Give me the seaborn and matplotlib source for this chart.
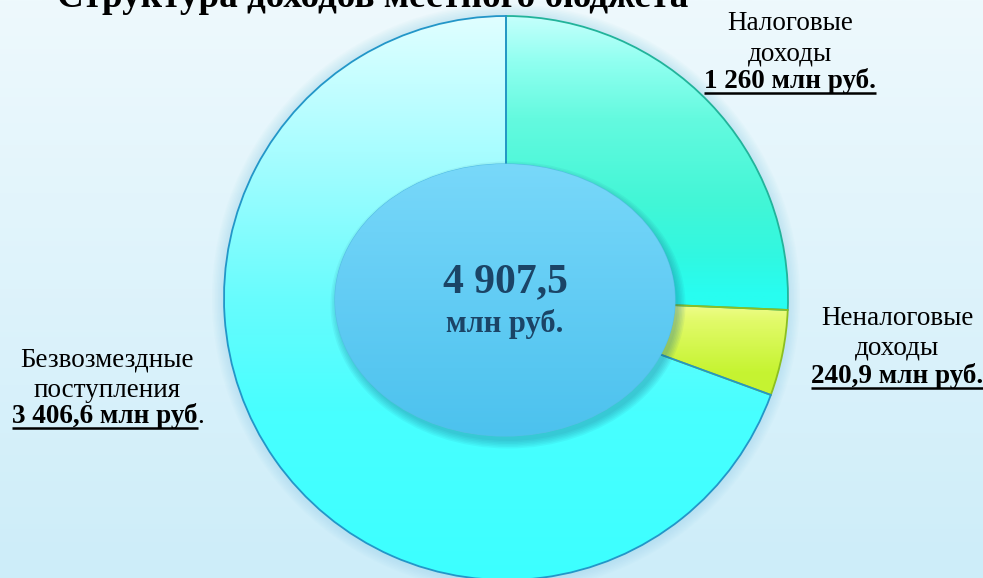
import numpy as np
import seaborn as sns
import matplotlib.pyplot as plt
from matplotlib.colors import LinearSegmentedColormap
from matplotlib.patches import Wedge, Ellipse, Circle

# данные
categories = ["Налоговые\nдоходы", "Неналоговые\nдоходы", "Безвозмездные\nпоступления"]
values = [1260, 240.9, 3406.6]
value_labels = ["1 260 млн руб.", "240,9 млн руб.", "3 406,6 млн руб"]
total_label = "4 907,5"
unit_label = "млн руб."
title = "Структура доходов местного бюджета"

sns.set_theme(style="white")
plt.rcParams['font.family'] = ['Liberation Serif', 'DejaVu Serif']

W, H = 983, 578
fig = plt.figure(figsize=(W / 100, H / 100), dpi=100)
ax = fig.add_axes([0, 0, 1, 1])

cx, cy, r = 506, H - 298, 282
ramp = np.linspace(0, 1, 256).reshape(-1, 1)

# фон
bg = LinearSegmentedColormap.from_list("bg", ["#cdedf9", "#eef9fd"])
ax.imshow(ramp, extent=[0, W, 0, H], cmap=bg, aspect='auto', origin='lower', zorder=0)

# мягкое свечение вокруг круга
for k in range(1, 9):
    ax.add_patch(Circle((cx, cy), r + k * 1.5, color="#8fd0e6", alpha=0.05, lw=0, zorder=1))

grads = [
    [(0, "#28fff0"), (0.51, "#28fdf0"), (0.57, "#30f8e2"), (0.67, "#42f6d6"),
     (0.82, "#64fadf"), (0.92, "#90fff0"), (1, "#c4fffc")],
    [(0, "#c0f028"), (0.37, "#c6f432"), (0.46, "#e2fa6a"), (0.52, "#ffffb0"), (1, "#ffffb0")],
    [(0, "#3cffff"), (0.3, "#48ffff"), (0.5, "#68fcfd"), (0.76, "#a8fdff"), (1, "#e0ffff")],
]
edges = ["#22b39a", "#8cbf20", "#2396c8"]

wedges, _ = ax.pie(values, startangle=90, counterclock=False, center=(cx, cy), radius=r,
                   colors=["#40f4d8", "#d8f850", "#60fcff"], wedgeprops=dict(linewidth=0))

for w, g in zip(wedges, grads):
    cm = LinearSegmentedColormap.from_list("", g)
    im = ax.imshow(ramp, extent=[cx - r, cx + r, cy - r, cy + r], origin='lower',
                   cmap=cm, aspect='auto', zorder=2)
    im.set_clip_path(w)

for w, ec in zip(wedges, edges):
    ax.add_patch(Wedge((cx, cy), r, w.theta1, w.theta2, fill=False, ec=ec, lw=1.3, zorder=3))

# центральный эллипс
ex, ey, ew, eh = 505, H - 300, 340, 272
for k in range(6):
    ax.add_patch(Ellipse((ex + 3, ey - 5), ew + k * 3, eh + k * 3, color="#1f6f90",
                         alpha=0.07, lw=0, zorder=4))
inner = Ellipse((ex, ey), ew, eh, fc="#5fcdf4", ec="#55bfe6", lw=0.8, zorder=4)
ax.add_patch(inner)
cm = LinearSegmentedColormap.from_list("", ["#4cc2ee", "#62ccf4", "#78d8fa"])
im = ax.imshow(ramp, extent=[ex - ew / 2, ex + ew / 2, ey - eh / 2, ey + eh / 2],
               origin='lower', cmap=cm, aspect='auto', zorder=4.5)
im.set_clip_path(inner)

dark = "#1b4466"
ax.text(505, H - 292, total_label, fontsize=30, fontweight='bold', color=dark,
        ha='center', va='baseline', zorder=6)
ax.text(505, H - 332, unit_label, fontsize=22, fontweight='bold', color=dark,
        ha='center', va='baseline', zorder=6)

# подписи
fs = 19.5
label_pos = [(790, 30), (897, 325), (107, 367)]
under = []
for (x, y), cat, val in zip(label_pos, categories, value_labels):
    for i, line in enumerate(cat.split("\n")):
        ax.text(x, H - (y + 30 * i), line, fontsize=fs, ha='center', va='baseline',
                color="black", zorder=6)
    if val.endswith("."):
        t = ax.text(x, H - (y + 58), val, fontsize=fs, fontweight='bold', ha='center',
                    va='baseline', color="black", zorder=6)
    else:
        t = ax.text(12, H - (y + 56), val, fontsize=fs, fontweight='bold', ha='left',
                    va='baseline', color="black", zorder=6)
    under.append((t, y + (58 if val.endswith(".") else 56)))

ax.text(373, H - 7, title, fontsize=26.7, fontweight='bold', ha='center', va='baseline',
        color="black", zorder=6)

ax.set_xlim(0, W)
ax.set_ylim(0, H)
ax.axis('off')

fig.canvas.draw()
renderer = fig.canvas.get_renderer()
inv = ax.transData.inverted()
for t, yb in under:
    bb = t.get_window_extent(renderer)
    x0 = inv.transform((bb.x0, bb.y0))[0]
    x1 = inv.transform((bb.x1, bb.y0))[0]
    ax.plot([x0, x1], [H - (yb + 5), H - (yb + 5)], color="black", lw=1.8, zorder=6,
            solid_capstyle='butt')
    if not t.get_text().endswith("."):
        ax.text(x1, H - yb, ".", fontsize=fs, ha='left', va='baseline', color="black", zorder=6)

fig.savefig("out.png", dpi=100)
